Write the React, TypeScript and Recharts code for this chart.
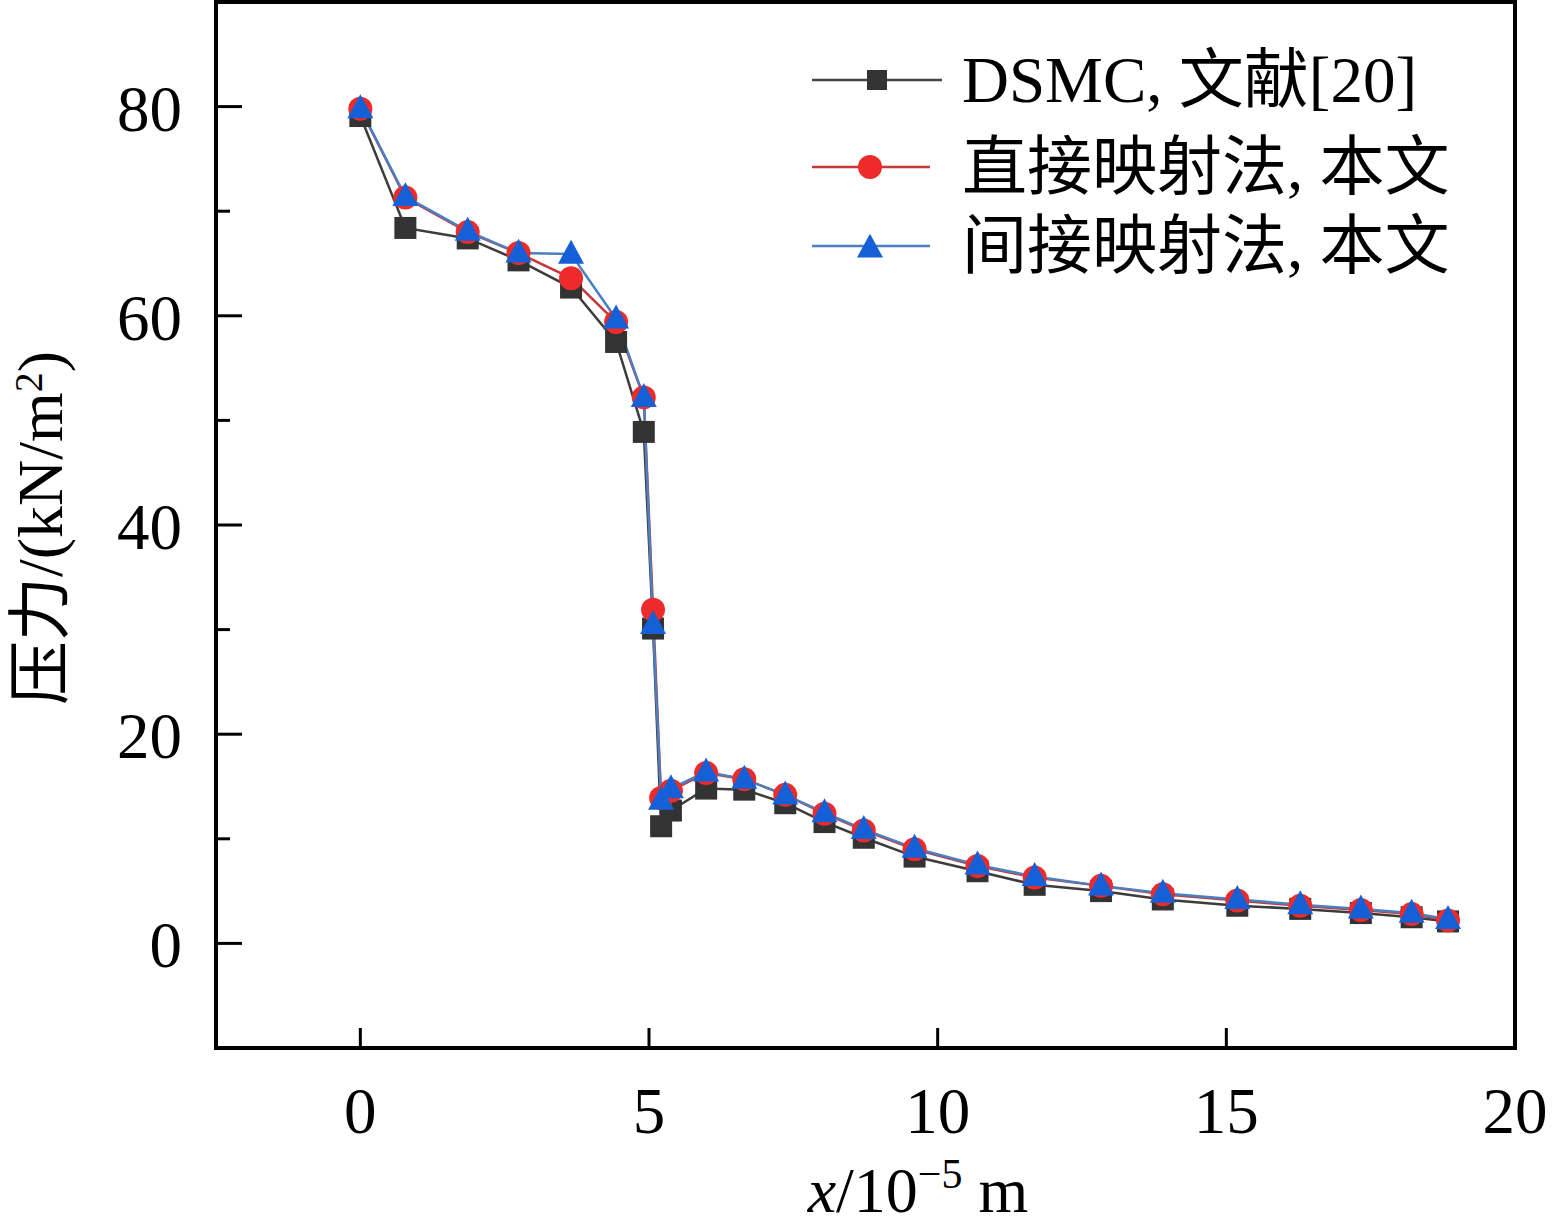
import React from "react";
import { LineChart, Line, XAxis, YAxis, ReferenceArea, Legend } from "recharts";

// x positions, in units of 10^-5 m
const xValues = [
  0, 0.78, 1.86, 2.74, 3.65, 4.43, 4.91, 5.07, 5.21, 5.38, 5.99, 6.65, 7.36,
  8.04, 8.72, 9.6, 10.69, 11.68, 12.83, 13.9, 15.19, 16.28, 17.33, 18.21, 18.84,
];

// pressure, kN/m^2
const dsmcValues = [
  79.1, 68.4, 67.4, 65.3, 62.7, 57.5, 48.9, 30.1, 11.2, 12.7, 14.8, 14.7, 13.4,
  11.6, 10.1, 8.3, 6.9, 5.6, 5.0, 4.2, 3.6, 3.3, 2.9, 2.5, 2.1,
];
const directValues = [
  79.8, 71.3, 68.0, 66.0, 63.6, 59.4, 52.2, 31.9, 13.9, 14.6, 16.3, 15.7, 14.2,
  12.4, 10.8, 9.0, 7.4, 6.3, 5.5, 4.7, 4.1, 3.6, 3.2, 2.8, 2.2,
];
const indirectValues = [
  79.8, 71.4, 68.1, 66.0, 65.9, 59.7, 52.2, 30.5, 13.7, 14.8, 16.4, 15.7, 14.2,
  12.5, 10.9, 9.1, 7.5, 6.4, 5.5, 4.8, 4.2, 3.7, 3.3, 2.9, 2.3,
];

const xTicks = [0, 5, 10, 15, 20];
const yTicks = [-10, 0, 10, 20, 30, 40, 50, 60, 70, 80, 90];

const seriesNames = ["DSMC, 文献[20]", "直接映射法, 本文", "间接映射法, 本文"];

const chartData = xValues.map((x, i) => ({
  x,
  dsmc: dsmcValues[i],
  direct: directValues[i],
  indirect: indirectValues[i],
}));

const FONT = "'Liberation Serif', 'Times New Roman', 'Noto Sans CJK SC', serif";

const SQUARE_FILL = "#333333";
const CIRCLE_FILL = "#ee2b2b";
const TRIANGLE_FILL = "#1560d6";

const Square = ({ cx, cy, s = 22 }: { cx: number; cy: number; s?: number }) => (
  <rect x={cx - s / 2} y={cy - s / 2} width={s} height={s} fill={SQUARE_FILL} />
);

const Circle = ({ cx, cy, r = 12 }: { cx: number; cy: number; r?: number }) => (
  <circle cx={cx} cy={cy} r={r} fill={CIRCLE_FILL} />
);

const Triangle = ({ cx, cy, s = 26 }: { cx: number; cy: number; s?: number }) => {
  const h = s * 0.92;
  const pts = `${cx},${cy - h * 0.6} ${cx - s / 2},${cy + h * 0.4} ${cx + s / 2},${cy + h * 0.4}`;
  return <polygon points={pts} fill={TRIANGLE_FILL} />;
};

// dot renderers for the series
const squareDot = (props: any) => (
  <Square key={`s-${props.index}`} cx={props.cx} cy={props.cy} />
);
const circleDot = (props: any) => (
  <Circle key={`c-${props.index}`} cx={props.cx} cy={props.cy} />
);
const triangleDot = (props: any) => (
  <Triangle key={`t-${props.index}`} cx={props.cx} cy={props.cy} />
);

// ticks point inward, labels outside
const XTick = (props: any) => {
  const { x, y, payload } = props;
  return (
    <g>
      <line x1={x} y1={y} x2={x} y2={y - 20} stroke="#000" strokeWidth={3} />
      <text x={x} y={y + 85} textAnchor="middle" fontSize={65} fontFamily={FONT} fill="#000">
        {payload.value}
      </text>
    </g>
  );
};

const YTick = (props: any) => {
  const { x, y, payload } = props;
  const v = payload.value;
  if (v === -10 || v === 90) return <g />;
  const major = v % 20 === 0;
  return (
    <g>
      <line x1={x} y1={y} x2={x + (major ? 26 : 14)} y2={y} stroke="#000" strokeWidth={3} />
      {major && (
        <text x={x - 34} y={y + 24} textAnchor="end" fontSize={65} fontFamily={FONT} fill="#000">
          {v}
        </text>
      )}
    </g>
  );
};

const LegendBox = () => {
  const rows = [
    { y: 80, x1: 22, x2: 152, color: "#444", marker: <Square cx={87} cy={80} s={20} /> },
    { y: 167, x1: 22, x2: 140, color: "#c8383a", marker: <Circle cx={80} cy={167} r={12} /> },
    { y: 246, x1: 22, x2: 140, color: "#4a7fc0", marker: <Triangle cx={80} cy={248} s={26} /> },
  ];
  return (
    <svg width={720} height={300} style={{ display: "block" }}>
      {rows.map((r, i) => (
        <g key={i}>
          <line x1={r.x1} y1={r.y} x2={r.x2} y2={r.y} stroke={r.color} strokeWidth={2.5} />
          {r.marker}
          <text x={172} y={r.y + 22} fontSize={65} fontFamily={FONT} fill="#000">
            {seriesNames[i]}
          </text>
        </g>
      ))}
    </svg>
  );
};

export default function App() {
  return (
    <div style={{ position: "absolute", left: 0, top: 0, width: 1552, height: 1228, background: "#fff" }}>
      <LineChart
        width={1552}
        height={1228}
        data={chartData}
        margin={{ top: 2, right: 37, bottom: 0, left: 0 }}
      >
        <XAxis
          dataKey="x"
          type="number"
          domain={[-2.5, 20]}
          ticks={xTicks}
          height={180}
          axisLine={false}
          tickLine={false}
          tickSize={0}
          tickMargin={0}
          tick={<XTick />}
          interval={0}
          allowDataOverflow
          label={{
            content: () => (
              <text x={918} y={1212} textAnchor="middle" fontSize={64} fontFamily={FONT} fill="#000">
                <tspan fontStyle="italic">x</tspan>
                <tspan>/10</tspan>
                <tspan dy={-24} fontSize={42}>−5</tspan>
                <tspan dy={24}> m</tspan>
              </text>
            ),
          }}
        />
        <YAxis
          type="number"
          domain={[-10, 90]}
          ticks={yTicks}
          width={216}
          axisLine={false}
          tickLine={false}
          tickSize={0}
          tickMargin={0}
          tick={<YTick />}
          interval={0}
          allowDataOverflow
          label={{
            content: () => (
              <text
                x={0}
                y={0}
                transform="translate(62, 528) rotate(-90)"
                textAnchor="middle"
                fontSize={64}
                fontFamily={FONT}
                fill="#000"
              >
                <tspan>压力/(kN/m</tspan>
                <tspan dy={-20} fontSize={40}>2</tspan>
                <tspan dy={20}>)</tspan>
              </text>
            ),
          }}
        />
        <ReferenceArea
          x1={-2.5}
          x2={20}
          y1={-10}
          y2={90}
          fill="none"
          fillOpacity={0}
          stroke="#000"
          strokeWidth={4}
          ifOverflow="visible"
        />
        <Legend
          layout="horizontal"
          verticalAlign="middle"
          align="center"
          content={() => <LegendBox />}
          wrapperStyle={{ position: "absolute", left: 790, top: 0, width: 720, height: 300 }}
        />
        <Line
          dataKey="dsmc"
          name={seriesNames[0]}
          type="linear"
          stroke="#3c3c3c"
          strokeWidth={2.5}
          dot={squareDot}
          activeDot={false}
          isAnimationActive={false}
        />
        <Line
          dataKey="direct"
          name={seriesNames[1]}
          type="linear"
          stroke="#c8383a"
          strokeWidth={2.5}
          dot={circleDot}
          activeDot={false}
          isAnimationActive={false}
        />
        <Line
          dataKey="indirect"
          name={seriesNames[2]}
          type="linear"
          stroke="#4a7fc0"
          strokeWidth={2.5}
          dot={triangleDot}
          activeDot={false}
          isAnimationActive={false}
        />
      </LineChart>
    </div>
  );
}
